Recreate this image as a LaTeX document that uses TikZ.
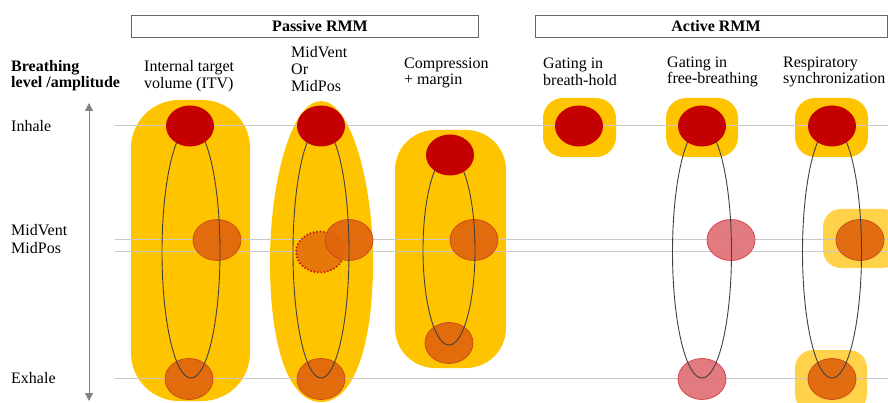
\documentclass[tikz,border=0pt]{standalone}
\usepackage{fontspec}
\setmainfont{Liberation Serif}
\usetikzlibrary{shapes.geometric,arrows.meta}
\definecolor{ylw}{HTML}{FFC400}
\definecolor{lylw}{HTML}{FFD24A}
\definecolor{rd}{HTML}{C40000}
\definecolor{org}{HTML}{E0640C}
\definecolor{orgb}{HTML}{C8461A}
\definecolor{pnk}{HTML}{E07479}
\definecolor{pnkb}{HTML}{D63A46}
\definecolor{gl}{HTML}{C8C8C8}
\tikzset{
  txt/.style={font=\fontsize{16}{16.5}\selectfont, inner sep=0pt, anchor=west, align=left},
  hdr/.style={font=\fontsize{16}{16.5}\selectfont\bfseries, inner sep=0pt},
  hbox/.style={draw=black!60, line width=0.8pt, inner sep=0pt},
  yblob/.style={fill=ylw, draw=none, inner sep=0pt},
  lblob/.style={fill=lylw, draw=none, inner sep=0pt},
  blob/.style={ellipse, inner sep=0pt, minimum width=48pt, minimum height=41pt},
  redc/.style={blob, fill=rd},
  orc/.style={blob, fill=org, draw=orgb, line width=0.7pt, fill opacity=0.92},
  pkc/.style={blob, fill=pnk, draw=pnkb, line width=0.7pt, fill opacity=0.95},
  dotc/.style={blob, fill=org!80!ylw, draw=rd, line width=1.6pt, dash pattern=on 1.2pt off 2.2pt},
  path/.style={ellipse, draw=black!75, line width=0.9pt, inner sep=0pt},
  gline/.style={draw=gl, line width=0.8pt},
}
\begin{document}
\begin{tikzpicture}[x=1pt,y=-1pt]
\useasboundingbox (0,0) rectangle (888,403);
% header boxes
\node[hbox, minimum width=347pt, minimum height=22pt] (pbox) at (304.5,26) {};
\node[hdr] (ptxt) at (320,26) {Passive RMM};
\node[hbox, minimum width=352pt, minimum height=22pt] (abox) at (711,26) {};
\node[hdr] (atxt) at (716,26) {Active RMM};
% left labels
\node[txt, font=\fontsize{16}{16.5}\selectfont\bfseries] (bl) at (11,75.5) {Breathing\\level /amplitude};
\node[txt] (inh) at (11,126) {Inhale};
\node[txt, font=\fontsize{16}{17.5}\selectfont] (mid) at (11,239) {MidVent\\MidPos};
\node[txt] (exh) at (11,378) {Exhale};
% column headers
\node[txt] (h1) at (144,76) {Internal target\\volume (ITV)};
\node[txt, font=\fontsize{16}{17}\selectfont] (h2) at (291,69) {MidVent\\Or\\MidPos};
\node[txt] (h3) at (404,73) {Compression\\+ margin};
\node[txt] (h4) at (543,72) {Gating in\\breath-hold};
\node[txt] (h5) at (667,72) {Gating in\\free-breathing};
\node[txt] (h6) at (783,72) {Respiratory\\synchronization};
% axis arrow
\coordinate (atop) at (89,103);
\coordinate (abot) at (89,401);
\draw[draw=gray, line width=0.8pt, {Triangle[width=8pt,length=8pt]}-{Triangle[width=8pt,length=8pt]}] (atop) -- (abot);
% yellow envelopes
\fill[yblob, rounded corners=48pt] (131,100) rectangle (250,401);
\fill[yblob] (321,101) .. controls (292,101) and (270,180) .. (270,262) .. controls (270,345) and (288,402) .. (321,402) .. controls (354,402) and (373,345) .. (373,262) .. controls (373,180) and (350,101) .. (321,101) -- cycle;
\fill[yblob, rounded corners=40pt] (395,130) rectangle (506,368);
\fill[yblob, rounded corners=20pt] (543,98) rectangle (616,157);
\fill[yblob, rounded corners=20pt] (666,98) rectangle (738,157);
\fill[yblob, rounded corners=20pt] (795,98) rectangle (868,157);
\fill[lblob, rounded corners=18pt] (823,209) rectangle (900,268);
\fill[lblob, rounded corners=18pt] (795,350) rectangle (867,412);
% guide lines
\coordinate (l1a) at (115,125); \coordinate (l1b) at (888,125);
\coordinate (l2a) at (115,239); \coordinate (l2b) at (888,239);
\coordinate (l3a) at (115,251); \coordinate (l3b) at (888,251);
\coordinate (l4a) at (115,378); \coordinate (l4b) at (888,378);
\draw[gline] (l1a) -- (l1b);
\draw[gline] (l2a) -- (l2b);
\draw[gline] (l3a) -- (l3b);
\draw[gline] (l4a) -- (l4b);
% orange / pink positions
\node[orc] (c1m) at (217,240) {};
\node[orc] (c1b) at (189,379) {};
\node[dotc] (c2d) at (320,252) {};
\node[orc] (c2m) at (349,240) {};
\node[orc] (c2b) at (321,379) {};
\node[orc] (c3m) at (474,240) {};
\node[orc] (c3b) at (449,343) {};
\node[pkc] (c5m) at (731,240) {};
\node[pkc] (c5b) at (702,379) {};
\node[orc] (c6m) at (860,240) {};
\node[orc] (c6b) at (832,379) {};
% trajectories
\node[path, minimum width=58pt, minimum height=252pt] (t1) at (191,252) {};
\node[path, minimum width=56pt, minimum height=252pt] (t2) at (321,252) {};
\node[path, minimum width=52pt, minimum height=190pt] (t3) at (449,250) {};
\node[path, minimum width=59pt, minimum height=252pt] (t5) at (702,252) {};
\node[path, minimum width=59pt, minimum height=252pt] (t6) at (832,252) {};
% inhale positions
\node[redc] (c1t) at (190,126) {};
\node[redc] (c2t) at (321,126) {};
\node[redc] (c3t) at (450,155) {};
\node[redc] (c4t) at (579,126) {};
\node[redc] (c5t) at (702,126) {};
\node[redc] (c6t) at (832,126) {};
\end{tikzpicture}
\end{document}
